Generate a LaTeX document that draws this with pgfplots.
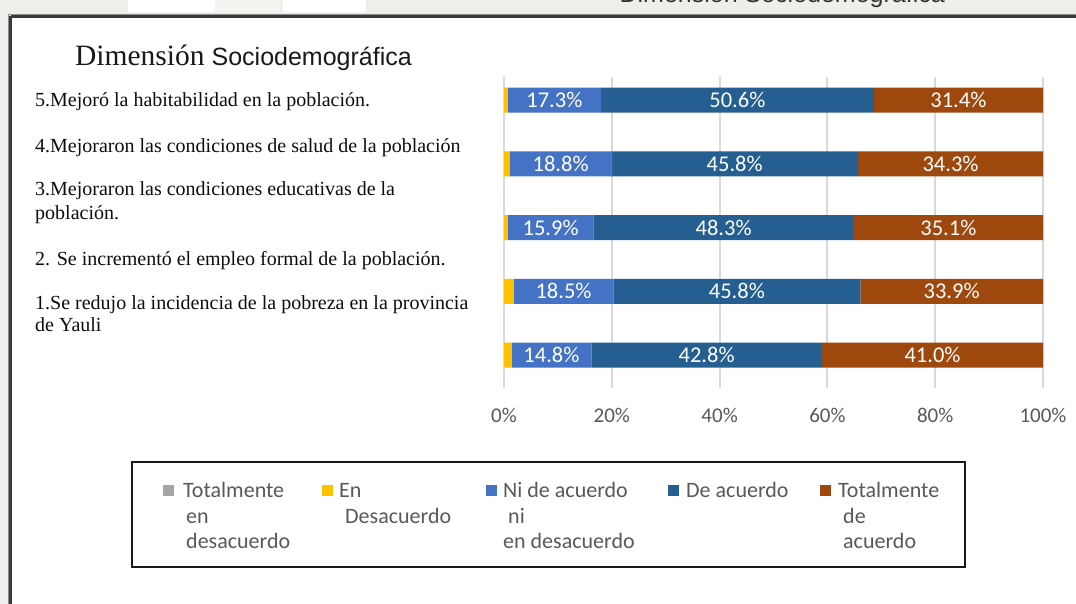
\documentclass[border=0pt]{standalone}
\usepackage{pgfplots}
\usepackage{pgfplotstable}
\pgfplotsset{compat=1.18}
\usepackage{fontspec}
\setmainfont{Liberation Serif}
\newfontfamily\carlito{Carlito}
\newfontfamily\arialf{Liberation Sans}

\definecolor{cGray}{HTML}{A5A5A5}
\definecolor{cYel}{HTML}{FFC000}
\definecolor{cLB}{HTML}{4472C4}
\definecolor{cDB}{HTML}{255E91}
\definecolor{cBr}{HTML}{9E480E}
\definecolor{gridc}{HTML}{D9D9D9}
\definecolor{bgc}{HTML}{EFEEEA}
\definecolor{bgc2}{HTML}{F4F3F0}
\definecolor{tickc}{HTML}{595959}
\definecolor{framec}{HTML}{3A3A3A}

% pos 1 = bottom bar, pos 5 = top bar
\pgfplotstableread{
pos td ed ni de ta
1 0 1.4 14.8 42.8 41.0
2 0 1.8 18.5 45.8 33.9
3 0 0.7 15.9 48.3 35.1
4 0 1.1 18.8 45.8 34.3
5 0 0.7 17.3 50.6 31.4
}\datatable

\pgfplotsset{
  seglabels/.style={
    point meta=explicit,
    nodes near coords={\pgfmathprintnumber[fixed, fixed zerofill, precision=1, assume math mode=true]{\pgfplotspointmeta}\%},
    nodes near coords style={text=white, inner sep=0pt,
      font=\carlito\fontsize{22.5}{22.5}\selectfont},
  },
}

\begin{document}
\begin{tikzpicture}
\path[use as bounding box] (0pt,0pt) rectangle (1076pt,-604pt);
\begin{scope}[x=1pt,y=-1pt]
  \clip (0,0) rectangle (1076,604);
  % outer background
  \fill[bgc] (0,0) rectangle (1076,604);
  \fill[white] (128,0) rectangle (215,12);
  \fill[white] (283,0) rectangle (366,12);
  \fill[bgc2] (215,0) rectangle (280,12);
  \node[anchor=base east, inner sep=0, text=black!80, font=\arialf\fontsize{25}{25}\selectfont] at (945,3) {Dimensión Sociodemográfica};
  \fill[bgc] (0,12) rectangle (1076,14);
  % white panel
  \fill[white] (10,16) rectangle (1080,610);
  \draw[black!45, line width=1pt] (8.5,14.5) -- (1080,14.5);
  \draw[black!45, line width=1pt] (8.5,14.5) -- (8.5,610);
  \draw[framec, line width=2.5pt] (10.5,16.5) -- (1080,16.5);
  \draw[framec, line width=2.5pt] (10.5,16.5) -- (10.5,610);
  % title
  \node[anchor=base west, inner sep=0, text=black!90] at (75,66)
    {{\fontsize{29.5}{29.5}\selectfont Dimensión}\hspace{7pt}{\arialf\fontsize{25}{25}\selectfont Sociodemográfica}};
  % statement labels
  \begin{scope}[every node/.style={anchor=base west, inner sep=0, text=black!95, font=\fontsize{20}{24}\selectfont}]
    \node at (35,107) {5.Mejoró la habitabilidad en la población.};
    \node at (35,153) {4.Mejoraron las condiciones de salud de la población};
    \node at (35,196) {3.Mejoraron las condiciones educativas de la};
    \node at (35,220) {población.};
    \node at (35,265) {2. Se incrementó el empleo formal de la población.};
    \node at (35,309) {1.Se redujo la incidencia de la pobreza en la provincia};
    \node at (35,331) {de Yauli};
  \end{scope}
  % legend
  \draw[black!90, line width=2pt] (132,462) rectangle (965,567);
  \fill[cGray] (163,485) rectangle (174,496);
  \fill[cYel] (322,485) rectangle (333,496);
  \fill[cLB] (486,485) rectangle (497,496);
  \fill[cDB] (668,485) rectangle (679,496);
  \fill[cBr] (820,485) rectangle (831,496);
  \begin{scope}[every node/.style={anchor=base west, inner sep=0, text=tickc, font=\carlito\fontsize{22}{22}\selectfont}]
    \node at (183,497) {Totalmente};
    \node at (186,523) {en};
    \node at (186,548) {desacuerdo};
    \node at (339,497) {En};
    \node at (345,523) {Desacuerdo};
    \node at (503,497) {Ni de acuerdo};
    \node at (508,523) {ni};
    \node at (503,548) {en desacuerdo};
    \node at (686,497) {De acuerdo};
    \node at (838,497) {Totalmente};
    \node at (843,523) {de};
    \node at (843,548) {acuerdo};
  \end{scope}
\end{scope}

\begin{axis}[
  at={(504pt,-388pt)}, anchor=south west,
  scale only axis, width=539pt, height=311pt,
  xbar stacked, bar width=25pt,
  xmin=0, xmax=100, ymin=0.482, ymax=5.364,
  axis line style={draw=none},
  ytick=\empty,
  xtick={0,20,40,60,80,100},
  xticklabels={0\%,20\%,40\%,60\%,80\%,100\%},
  xmajorgrids, grid style={draw=gridc, line width=2pt},
  major tick length=0pt,
  xticklabel style={font=\carlito\fontsize{21}{21}\selectfont, text=tickc, anchor=center, yshift=-27pt},
  clip=false,
]
\addplot[fill=cGray, draw=none] table[x=td,y=pos]{\datatable};
\addplot[fill=cYel, draw=none] table[x=ed,y=pos]{\datatable};
\addplot[fill=cLB, draw=none, seglabels] table[x=ni,y=pos,meta=ni]{\datatable};
\addplot[fill=cDB, draw=none, seglabels] table[x=de,y=pos,meta=de]{\datatable};
\addplot[fill=cBr, draw=none, seglabels] table[x=ta,y=pos,meta=ta]{\datatable};
\end{axis}
\end{tikzpicture}
\end{document}
